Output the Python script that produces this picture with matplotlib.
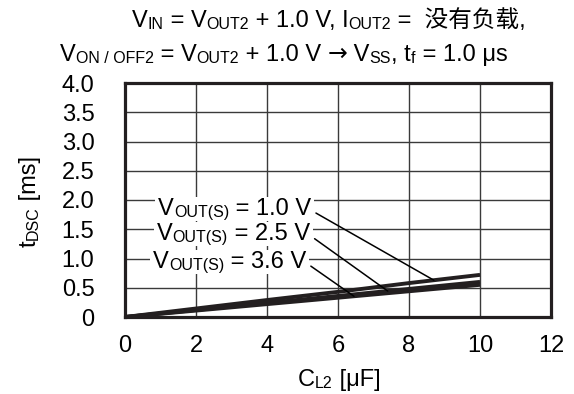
import matplotlib
matplotlib.use("Agg")
import matplotlib.pyplot as plt
import numpy as np
from matplotlib.patches import Rectangle
from matplotlib.transforms import Bbox, IdentityTransform

plt.rcParams["font.family"] = ["Liberation Sans", "Noto Sans CJK SC", "DejaVu Sans"]

# C_L2 [uF] vs t_DSC [ms]
cap_uf = [0, 2, 4, 6, 8, 10]
t_v10 = [0, 0.145, 0.29, 0.43, 0.58, 0.72]
t_v25 = [0, 0.12, 0.24, 0.36, 0.48, 0.60]
t_v36 = [0, 0.11, 0.22, 0.33, 0.44, 0.55]
series = [t_v10, t_v25, t_v36]
vout_labels = ["1.0", "2.5", "3.6"]

x_ticks = [0, 2, 4, 6, 8, 10, 12]
y_ticks = [0, 0.5, 1.0, 1.5, 2.0, 2.5, 3.0, 3.5, 4.0]
y_ticklabels = ["0", "0.5", "1.0", "1.5", "2.0", "2.5", "3.0", "3.5", "4.0"]

# where the labels sit and where their leaders touch the curves
label_x = [0.93, 0.90, 0.79]
label_y = [1.74, 1.31, 0.84]
leader_x = [8.7, 7.4, 6.45]

FS = 17
SUB = 0.68
DROP = 1.5
INK = "#231f20"

W, H = 574, 394
fig = plt.figure(figsize=(W / 100, H / 100), dpi=100)
ax = fig.add_axes([125 / W, (H - 317) / H, (551 - 125) / W, (317 - 83) / H])


def rich(parts, x, y, coords, size=FS, rotation=0):
    # chain text pieces: 0 normal, 1 subscript, 2 symbol (DejaVu)
    texts = []
    for s, kind in parts:
        fs = size * SUB if kind == 1 else size
        drop = DROP if kind == 1 else 0
        fam = ["DejaVu Sans"] if kind == 2 else None
        off = (drop, 0) if rotation else (0, -drop)
        if not texts:
            xy, xyc = (x, y), coords
        elif rotation:
            xy, xyc = (x, 1), (coords, texts[-1])
        else:
            xy, xyc = (1, y), (texts[-1], coords)
        t = ax.annotate(s, xy=xy, xycoords=xyc, xytext=off, textcoords="offset points",
                        fontsize=fs, rotation=rotation, rotation_mode="anchor",
                        ha="left", va="baseline", annotation_clip=False, color="black")
        if fam:
            t.set_family(fam)
        texts.append(t)
    return texts


for vals in series:
    ax.plot(cap_uf, vals, color=INK, lw=2.8, solid_capstyle="butt", zorder=2)

ax.set_xlim(0, 12)
ax.set_ylim(0, 4)
ax.set_xticks(x_ticks)
ax.set_yticks(y_ticks, labels=y_ticklabels)
ax.tick_params(length=0, labelsize=FS)
ax.tick_params(axis="y", pad=22)
ax.tick_params(axis="x", pad=13)
ax.grid(True, color="#3a3a3a", lw=1.0)
for sp in ax.spines.values():
    sp.set_linewidth(2.3)
    sp.set_color(INK)

labels = []
for lx, ly, v in zip(label_x, label_y, vout_labels):
    labels.append(rich([("V", 0), ("OUT(S)", 1), (f" = {v} V", 0)], lx, ly, "data"))

# title lines (figure pixels, baseline)
rich([("V", 0), ("IN", 1), (" = V", 0), ("OUT2", 1), (" + 1.0 V, I", 0), ("OUT2", 1),
      (" =  没有负载,", 0)], 132, H - 27, "figure pixels")
rich([("V", 0), ("ON / OFF2", 1), (" = V", 0), ("OUT2", 1), (" + 1.0 V ", 0),
      ("\u2192", 2), (" V", 0), ("SS", 1), (", t", 0), ("f", 1), (" = 1.0 \u03bcs", 0)],
     60, H - 61, "figure pixels")

# axis labels
rich([("C", 0), ("L2", 1), (" [\u03bcF]", 0)], 298, H - 386, "figure pixels")
rich([("t", 0), ("DSC", 1), (" [ms]", 0)], 36, H - 247, "figure pixels", rotation=90)

# white backing behind the curve labels, then the leader lines
fig.canvas.draw()
for pieces in labels:
    bb = Bbox.union([t.get_window_extent() for t in pieces])
    ax.add_patch(Rectangle((bb.x0 - 3, bb.y0 - 1), bb.width + 6, bb.height + 2,
                           transform=IdentityTransform(), facecolor="white",
                           edgecolor="none", zorder=2.5, clip_on=False))
for pieces, lxe, vals in zip(labels, leader_x, series):
    ax.annotate("", xy=(lxe, np.interp(lxe, cap_uf, vals)), xycoords="data",
                xytext=(1, 0.45), textcoords=pieces[-1],
                arrowprops=dict(arrowstyle="-", color="black", lw=1.1,
                                shrinkA=4, shrinkB=0))

fig.savefig("out.png", dpi=100)
